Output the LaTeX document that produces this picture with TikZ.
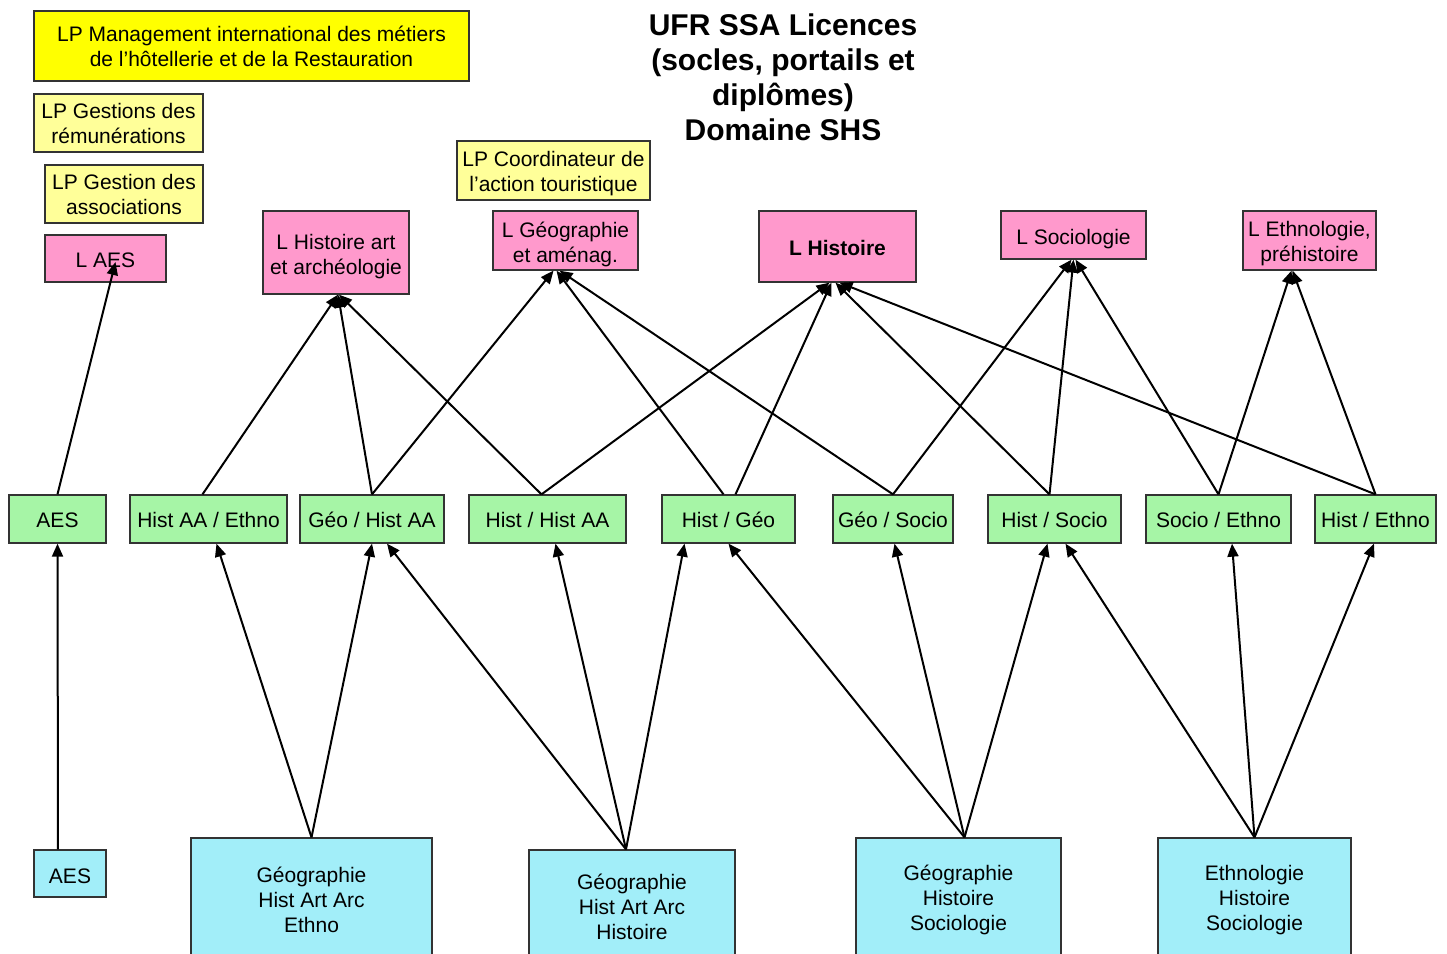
\documentclass[tikz,border=0pt]{standalone}
\usepackage{fontspec}
\setmainfont{Liberation Sans}
\usepackage{tikz}
\usetikzlibrary{arrows.meta}

\definecolor{lpyellow}{HTML}{FFFF00}
\definecolor{lppale}{HTML}{FFFF99}
\definecolor{licpink}{HTML}{FF99CC}
\definecolor{portgreen}{HTML}{A6F5A6}
\definecolor{soclecyan}{HTML}{A2EEF9}

% raise the first line so that the text sits a bit lower in its box
\newcommand{\topline}[1]{\rule{0pt}{#1}}

\tikzset{box/.style={rectangle,draw=black!80,line width=1.3pt,align=center,
                     inner sep=2pt,font=\fontsize{21}{25}\selectfont},
         drop/.style={execute at begin node={\topline{#1}}}}

\begin{document}
\begin{tikzpicture}[x=1pt,y=-1pt]
\useasboundingbox (0,0) rectangle (1447,953);
\clip (0,0) rectangle (1447,953);

\node[font=\fontsize{30}{35}\selectfont\bfseries,align=center] (title) at (783,77)
    {UFR SSA Licences\\(socles, portails et\\diplômes)\\Domaine SHS};

% licences pro
\begin{scope}[every node/.style={box}]
    \node[fill=lpyellow,minimum width=435,minimum height=70] (lpmih) at (251.5,46)
        {LP Management international des métiers\\de l’hôtellerie et de la Restauration};
    \node[fill=lppale,minimum width=169,minimum height=58] (lpgr) at (118.5,123)
        {LP Gestions des\\rémunérations};
    \node[fill=lppale,minimum width=158,minimum height=58] (lpga) at (124,194)
        {LP Gestion des\\associations};
    \node[fill=lppale,minimum width=193,minimum height=59] (lpcat) at (553.5,170.5)
        {\topline{21.5pt}LP Coordinateur de\\l’action touristique};
\end{scope}

% licences
\begin{scope}[every node/.style={box,fill=licpink}]
    \node[minimum width=121,minimum height=47,drop=19pt] (laes) at (105.5,258.5) {L AES};
    \node[minimum width=146,minimum height=83] (lhaa) at (336,252.5)
        {\topline{23.5pt}L Histoire art\\et archéologie};
    \node[minimum width=145,minimum height=59] (lgeo) at (565.5,240.5)
        {\topline{22.5pt}L Géographie\\et aménag.};
    \node[minimum width=157,minimum height=71,drop=19pt] (lhist) at (837.5,246.5) {\bfseries L Histoire};
    \node[minimum width=145,minimum height=48,drop=23pt] (lsocio) at (1073.5,235) {L Sociologie};
    \node[minimum width=133,minimum height=59] (lethno) at (1309.5,240.5)
        {\topline{21.5pt}L Ethnologie,\\préhistoire};
\end{scope}

% portails
\begin{scope}[every node/.style={box,fill=portgreen,minimum height=48,drop=17.5pt}]
    \node[minimum width=97] (aes) at (57.5,519) {AES};
    \node[minimum width=157] (haaeth) at (208.5,519) {Hist AA / Ethno};
    \node[minimum width=144] (geohaa) at (372,519) {Géo / Hist AA};
    \node[minimum width=157] (histhaa) at (547.5,519) {Hist / Hist AA};
    \node[minimum width=133] (histgeo) at (728.5,519) {Hist / Géo};
    \node[minimum width=120] (geosocio) at (893,519) {Géo / Socio};
    \node[minimum width=133] (histsocio) at (1054.5,519) {Hist / Socio};
    \node[minimum width=145] (socioeth) at (1218.5,519) {Socio / Ethno};
    \node[minimum width=121] (histeth) at (1375.5,519) {Hist / Ethno};
\end{scope}

% socles
\begin{scope}[every node/.style={box,fill=soclecyan}]
    \node[minimum width=72,minimum height=47,drop=19.5pt] (baes) at (70,873.5) {AES};
    \node[minimum width=241,minimum height=120] (bgae) at (311.5,898)
        {\topline{19.5pt}Géographie\\Hist Art Arc\\Ethno};
    \node[minimum width=206,minimum height=110] (bgah) at (632,905)
        {\topline{19.5pt}Géographie\\Hist Art Arc\\Histoire};
    \node[minimum width=205,minimum height=120] (bghs) at (958.5,898)
        {\topline{19.5pt}Géographie\\Histoire\\Sociologie};
    \node[minimum width=193,minimum height=120] (behs) at (1254.5,898)
        {\topline{19.5pt}Ethnologie\\Histoire\\Sociologie};
\end{scope}

\begin{scope}[>={Triangle[length=13pt,width=11pt]},
              every edge/.style={draw=black,line width=2pt}]
    % socles -> portails
    \path [->] ([xshift=-12pt]baes.north) edge (aes.south);
    \path [->] (bgae.north) edge ([xshift=8pt]haaeth.south);
    \path [->] (bgae.north) edge (geohaa.south);
    \path [->] ([xshift=-6pt]bgah.north) edge ([xshift=15pt]geohaa.south);
    \path [->] ([xshift=-6pt]bgah.north) edge ([xshift=8pt]histhaa.south);
    \path [->] ([xshift=-6pt]bgah.north) edge ([xshift=-44pt]histgeo.south);
    \path [->] ([xshift=6pt]bghs.north) edge (histgeo.south);
    \path [->] ([xshift=6pt]bghs.north) edge ([xshift=1.5pt]geosocio.south);
    \path [->] ([xshift=6pt]bghs.north) edge ([xshift=-7pt]histsocio.south);
    \path [->] (behs.north) edge ([xshift=11pt]histsocio.south);
    \path [->] (behs.north) edge ([xshift=13.5pt]socioeth.south);
    \path [->] (behs.north) edge ([xshift=-1.5pt]histeth.south);

    % portails -> licences
    \path [->] (aes.north) edge ([xshift=10pt,yshift=-3.5pt]laes.center);
    \path [->] ([xshift=-6pt]haaeth.north) edge ([xshift=2pt]lhaa.south);
    \path [->] (geohaa.north) edge ([xshift=2pt]lhaa.south);
    \path [->] (geohaa.north) edge ([xshift=-12pt]lgeo.south);
    \path [->] ([xshift=-6pt]histhaa.north) edge ([xshift=3pt]lhaa.south);
    \path [->] ([xshift=-6pt]histhaa.north) edge ([xshift=-8pt]lhist.south);
    \path [->] ([xshift=-5pt]histgeo.north) edge ([xshift=-9pt]lgeo.south);
    \path [->] ([xshift=7pt]histgeo.north) edge ([xshift=-6pt]lhist.south);
    \path [->] (geosocio.north) edge ([xshift=-6pt]lgeo.south);
    \path [->] (geosocio.north) edge ([xshift=-2pt]lsocio.south);
    \path [->] ([xshift=-5pt]histsocio.north) edge ([xshift=-2pt]lhist.south);
    \path [->] ([xshift=-5pt]histsocio.north) edge (lsocio.south);
    \path [->] (socioeth.north) edge ([xshift=2pt]lsocio.south);
    \path [->] (socioeth.north) edge ([xshift=-18pt]lethno.south);
    \path [->] (histeth.north) edge ([xshift=2pt]lhist.south);
    \path [->] (histeth.north) edge ([xshift=-17pt]lethno.south);
\end{scope}
\end{tikzpicture}
\end{document}
